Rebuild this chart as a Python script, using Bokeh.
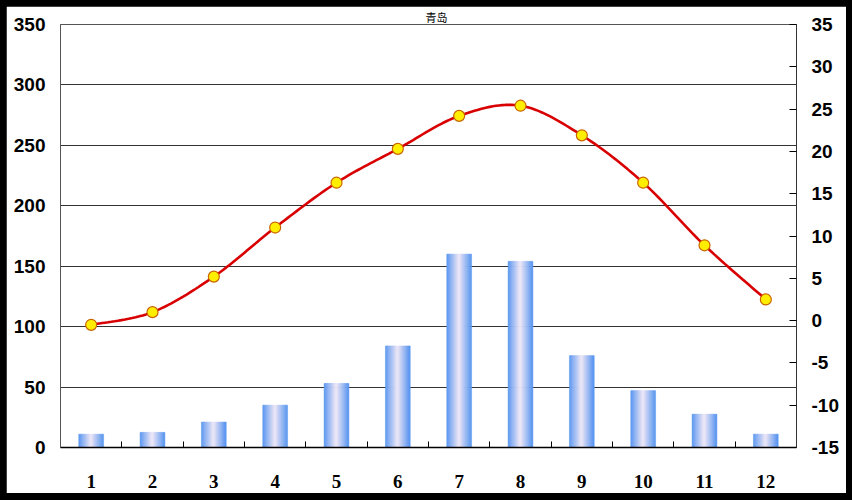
from bokeh.plotting import figure
from bokeh.models import Range1d, LinearAxis, FixedTicker, Title
from bokeh.embed import file_html
from bokeh.resources import INLINE

# ---- data ----
months = [1, 2, 3, 4, 5, 6, 7, 8, 9, 10, 11, 12]
month_labels = ["1", "2", "3", "4", "5", "6", "7", "8", "9", "10", "11", "12"]
precip = [11, 12.5, 21, 35, 53, 84, 160, 154, 76, 47, 27.5, 11]       # mm (left axis)
temp = [-0.5, 1.0, 5.2, 11.0, 16.3, 20.3, 24.2, 25.4, 21.9, 16.3, 8.9, 2.5]  # °C (right axis)
left_ticks = [0, 50, 100, 150, 200, 250, 300, 350]
right_ticks = [-15, -10, -5, 0, 5, 10, 15, 20, 25, 30, 35]
right_labels = ["-15", "-10", "-5", "0", "5", "10", "15", "20", "25", "30", "35"]
title_text = "青岛"

p = figure(width=840, height=487, output_backend="svg", toolbar_location=None,
           x_range=Range1d(0.5, 12.5), y_range=Range1d(0, 350),
           min_border_left=54, min_border_right=50, min_border_top=18, min_border_bottom=46,
           background_fill_color="white", border_fill_color="white")
p.extra_y_ranges = {"temp": Range1d(-15, 35)}
p.outline_line_color = "#555555"

t = Title(text=title_text, text_font="Noto Sans CJK SC", text_font_size="11px",
          text_font_style="normal", text_color="black", align="left", offset=365, standoff=0)
p.add_layout(t, "above")

# ---- bars with horizontal gradient (drawn as narrow strips) ----
bar_w = 0.4
n_strips = 24
edge = (88, 150, 240)
center = (240, 232, 246)
for k in range(n_strips):
    tpos = (k + 0.5) / n_strips * 2 - 1  # -1..1
    a = abs(tpos) ** 1.0
    col = tuple(int(round(center[i] + (edge[i] - center[i]) * a)) for i in range(3))
    hexcol = "#%02x%02x%02x" % col
    off = tpos * bar_w / 2
    p.vbar(x=[m + off for m in months], top=precip, bottom=0,
           width=bar_w / n_strips * 1.3, fill_color=hexcol, line_color=hexcol, line_width=0.5)

# ---- smooth temperature line (Catmull-Rom through the data points) ----
xs, ys = [], []
pts_x = [months[0]] + months + [months[-1]]
pts_y = [temp[0]] + temp + [temp[-1]]
steps = 20
for i in range(1, len(pts_x) - 2):
    x0, x1, x2, x3 = pts_x[i - 1], pts_x[i], pts_x[i + 1], pts_x[i + 2]
    y0, y1, y2, y3 = pts_y[i - 1], pts_y[i], pts_y[i + 1], pts_y[i + 2]
    for s in range(steps + (1 if i == len(pts_x) - 3 else 0)):
        u = s / steps
        u2, u3 = u * u, u * u * u
        xs.append(0.5 * ((2 * x1) + (-x0 + x2) * u + (2 * x0 - 5 * x1 + 4 * x2 - x3) * u2 + (-x0 + 3 * x1 - 3 * x2 + x3) * u3))
        ys.append(0.5 * ((2 * y1) + (-y0 + y2) * u + (2 * y0 - 5 * y1 + 4 * y2 - y3) * u2 + (-y0 + 3 * y1 - 3 * y2 + y3) * u3))
p.line(xs, ys, y_range_name="temp", line_color="#d80000", line_width=2.6)
p.scatter(months, temp, y_range_name="temp", size=11, fill_color="#ffee00",
          line_color="#c86400", line_width=1.2)

# ---- axes ----
p.xgrid.grid_line_color = None
p.ygrid.ticker = FixedTicker(ticks=left_ticks)
p.ygrid.grid_line_color = "#333333"
p.ygrid.grid_line_width = 1

xa = p.xaxis[0]
xa.ticker = FixedTicker(ticks=months, minor_ticks=[m + 0.5 for m in months[:-1]])
xa.major_label_overrides = {m: l for m, l in zip(months, month_labels)}
xa.major_tick_line_color = None
xa.minor_tick_in = 6
xa.minor_tick_out = 0
xa.minor_tick_line_color = "black"
xa.axis_line_color = "black"
xa.axis_line_width = 1.5
xa.major_label_text_font = "Liberation Serif"
xa.major_label_text_font_style = "bold"
xa.major_label_text_font_size = "19px"
xa.major_label_text_color = "black"
xa.major_label_standoff = 21

ya = p.yaxis[0]
ya.ticker = FixedTicker(ticks=left_ticks)
ya.major_tick_in = 0
ya.major_tick_out = 0
ya.minor_tick_line_color = None
ya.axis_line_color = "#555555"
ya.major_label_text_font = "Liberation Sans"
ya.major_label_text_font_style = "bold"
ya.major_label_text_font_size = "19px"
ya.major_label_text_color = "black"
ya.major_label_standoff = 15

ra = LinearAxis(y_range_name="temp", ticker=FixedTicker(ticks=right_ticks))
ra.major_label_overrides = {v: l for v, l in zip(right_ticks, right_labels)}
ra.major_tick_in = 7
ra.major_tick_out = 0
ra.major_tick_line_color = "black"
ra.minor_tick_line_color = None
ra.axis_line_color = "#333333"
ra.major_label_text_font = "Liberation Sans"
ra.major_label_text_font_style = "bold"
ra.major_label_text_font_size = "19px"
ra.major_label_text_color = "black"
ra.major_label_standoff = 15
p.add_layout(ra, "right")

html = file_html(p, INLINE)
html = html.replace("</head>", "<style>html,body{background:#000;margin:0;padding:0;}body{margin:6px !important;}</style></head>", 1)
open("out.html", "w").write(html)
